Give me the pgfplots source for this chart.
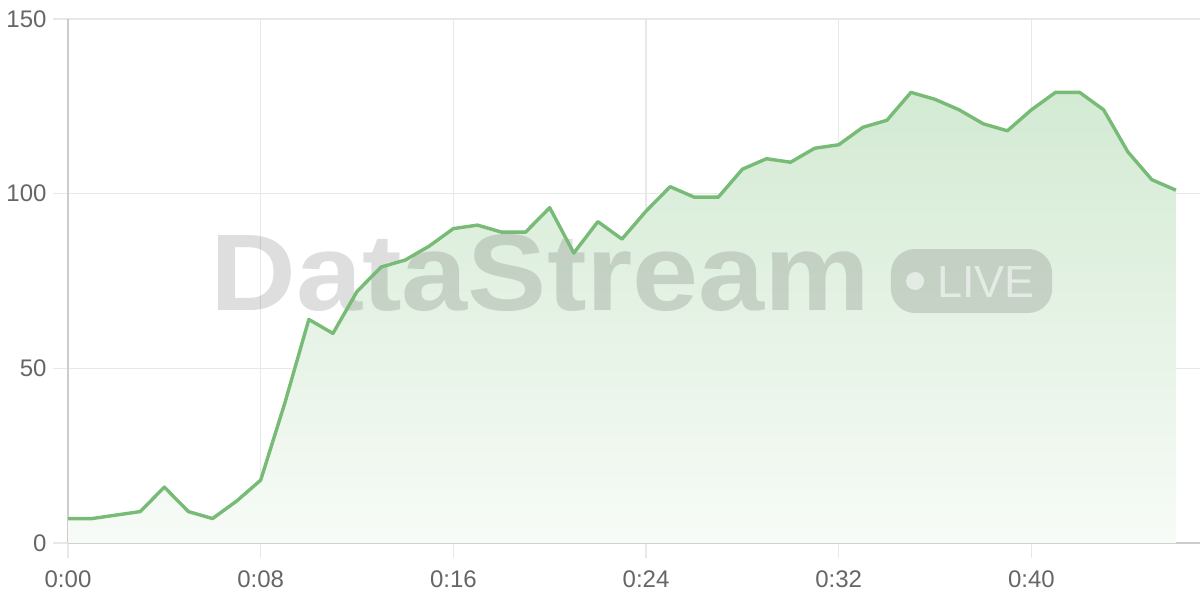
\documentclass[border=0pt]{standalone}
\usepackage{fontspec}
\setmainfont{Liberation Sans}
\usepackage{pgfplots}
\pgfplotsset{compat=1.18}
\usetikzlibrary{calc}
\definecolor{linegreen}{HTML}{77BB77}
\definecolor{filltop}{HTML}{D3EAD3}
\definecolor{fillbot}{HTML}{F7FBF7}
\definecolor{gridc}{HTML}{E8E8E8}
\definecolor{axisc}{HTML}{CCCCCC}
\definecolor{labelc}{HTML}{666666}
\begin{document}
\begin{tikzpicture}
\begin{axis}[name=ax, at={(0,0)}, anchor=south west,
  scale only axis, width=1132pt, height=524pt,
  xmin=0, xmax=47, ymin=0, ymax=150,
  xtick={0,8,16,24,32,40},
  xticklabels={0:00,0:08,0:16,0:24,0:32,0:40},
  ytick={0,50,100,150},
  grid=major,
  grid style={draw=gridc, line width=1.2pt},
  axis x line*=bottom, axis y line*=left,
  axis line style={draw=axisc, line width=1.6pt},
  tick style={draw=gridc, line width=1.2pt},
  major tick length=15pt, tick align=outside,
  ticklabel style={font=\fontsize{24}{28}\selectfont, text=labelc},
  xticklabel style={yshift=-9pt},
  yticklabel style={xshift=-3pt},
  /pgf/number format/assume math mode=true,
  clip=false,
]
\addplot[draw=none, top color=filltop, bottom color=fillbot] table {
x y
0 7
1 7
2 8
3 9
4 16
5 9
6 7
7 12
8 18
9 40
10 64
11 60
12 72
13 79
14 81
15 85
16 90
17 91
18 89
19 89
20 96
21 83
22 92
23 87
24 95
25 102
26 99
27 99
28 107
29 110
30 109
31 113
32 114
33 119
34 121
35 129
36 127
37 124
38 120
39 118
40 124
41 129
42 129
43 124
44 112
45 104
46 101
} \closedcycle;
\node[anchor=base west, inner sep=0pt, text=black, opacity=0.13, font=\fontsize{109}{110}\bfseries\selectfont] at (axis cs:5.90,66.7) {\scalebox{1.09}[1]{DataStream}};
\fill[black, opacity=0.13, rounded corners=24pt] (axis cs:34.17,65.84) rectangle (axis cs:40.86,84.16);
\fill[white, opacity=0.55] (axis cs:35.17,75.0) circle[radius=9pt];
\node[anchor=base west, inner sep=0pt, text=white, opacity=0.55, font=\fontsize{45}{46}\selectfont] at (axis cs:36.08,70.4) {LIVE};
\addplot[draw=linegreen, line width=3.4pt, line join=round] table {
x y
0 7
1 7
2 8
3 9
4 16
5 9
6 7
7 12
8 18
9 40
10 64
11 60
12 72
13 79
14 81
15 85
16 90
17 91
18 89
19 89
20 96
21 83
22 92
23 87
24 95
25 102
26 99
27 99
28 107
29 110
30 109
31 113
32 114
33 119
34 121
35 129
36 127
37 124
38 120
39 118
40 124
41 129
42 129
43 124
44 112
45 104
46 101
};
\end{axis}
\pgfresetboundingbox
\path[use as bounding box] ($(ax.south west)+(-68pt,-57pt)$) rectangle ($(ax.north east)+(0pt,19pt)$);
\end{tikzpicture}
\end{document}
